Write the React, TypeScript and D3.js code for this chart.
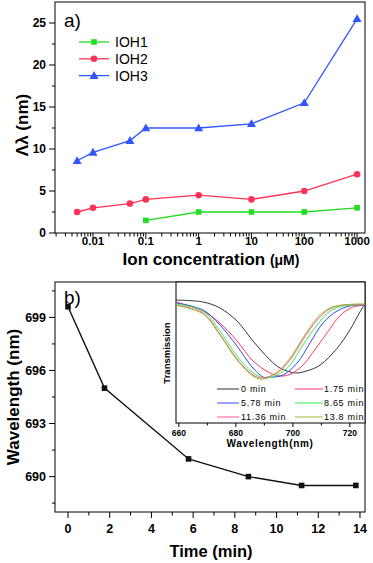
import React from 'react';
import * as d3 from 'd3';

// panel a) data
const concentrations = [0.005, 0.01, 0.05, 0.1, 1, 10, 100, 1000];
const ioh1Conc = [0.1, 1, 10, 100, 1000];
const ioh1 = [1.5, 2.5, 2.5, 2.5, 3];
const ioh2 = [2.5, 3, 3.5, 4, 4.5, 4, 5, 7];
const ioh3 = [8.6, 9.6, 11, 12.5, 12.5, 13, 15.5, 25.5];
const concTicks = [0.01, 0.1, 1, 10, 100, 1000];
const concTickLabels = ['0.01', '0.1', '1', '10', '100', '1000'];
const shiftTicks = [0, 5, 10, 15, 20, 25];

// panel b) data
const times = [0, 1.75, 5.78, 8.65, 11.2, 13.8];
const peakWavelength = [699.6, 695, 691, 690, 689.5, 689.5];
const timeTicks = [0, 2, 4, 6, 8, 10, 12, 14];
const wavelengthTicks = [690, 693, 696, 699];

// inset spectra: [wavelength, transmission]
const spectrumLabels = ['0 min', '1.75 min', '5.78 min', '8.65 min', '11.36 min', '13.8 min'];
const spec0 = [[659, 0.872], [668.5, 0.858], [674.4, 0.816], [680.4, 0.723], [686, 0.582], [692, 0.447], [695.5, 0.39], [700.8, 0.355], [705, 0.37], [709.5, 0.41], [715.5, 0.53], [720, 0.66], [723.6, 0.79], [725.3, 0.845]];
const spec1 = [[659, 0.858], [668.5, 0.794], [674.4, 0.709], [680.4, 0.582], [686, 0.44], [692, 0.355], [695.5, 0.333], [699, 0.345], [703.5, 0.41], [707, 0.5], [712, 0.64], [716.5, 0.76], [720.8, 0.82], [725.3, 0.837]];
const spec2 = [[659, 0.851], [668.5, 0.801], [674.4, 0.695], [680.4, 0.546], [686, 0.39], [690, 0.322], [692.5, 0.325], [696.5, 0.34], [701.5, 0.425], [706, 0.567], [710.6, 0.71], [715.5, 0.794], [720, 0.83], [725.3, 0.837]];
const spec3 = [[659, 0.844], [668.5, 0.794], [674.4, 0.652], [680.4, 0.475], [686, 0.355], [690, 0.32], [694.4, 0.34], [699, 0.41], [703.5, 0.553], [708.5, 0.695], [713, 0.794], [717.6, 0.83], [722.5, 0.837], [725.3, 0.84]];
const spec4 = [[659, 0.837], [668.5, 0.78], [674.4, 0.63], [680.4, 0.454], [686, 0.34], [689, 0.32], [694.4, 0.355], [699, 0.447], [703.5, 0.589], [708.5, 0.73], [713, 0.81], [717.6, 0.837], [725.3, 0.84]];
const spec5 = [[659, 0.835], [668.5, 0.773], [674.4, 0.624], [680.4, 0.447], [686, 0.333], [689, 0.31], [694.4, 0.36], [699, 0.46], [703.5, 0.603], [708.5, 0.745], [713, 0.816], [717.6, 0.837], [725.3, 0.845]];
const spectra = [spec0, spec1, spec2, spec3, spec4, spec5];
const spectrumColors = ['#333333', '#ff3366', '#3344ee', '#33ee44', '#ff5599', '#99bb33'];
const insetTicks = [660, 680, 700, 720];
const insetMinor = [670, 690, 710];

const FONT = '"Liberation Sans", Arial, sans-serif';

function App() {
  // ---- panel a
  const xa = d3.scaleLog().domain([Math.pow(10, -2.72), Math.pow(10, 3.15)]).range([55, 365]);
  const ya = d3.scaleLinear().domain([0, 27.5]).range([233, 2]);
  const minorA: number[] = [];
  for (let e = -3; e <= 3; e++) {
    for (let k = 2; k <= 9; k++) {
      const v = k * Math.pow(10, e);
      if (v > xa.domain()[0] && v < xa.domain()[1]) minorA.push(v);
    }
  }
  const lineA = (xs: number[], ys: number[]) =>
    d3.line<number>().x((d, i) => xa(xs[i])).y(d => ya(d))(ys) || '';

  const series = [
    { name: 'IOH1', xs: ioh1Conc, ys: ioh1, color: '#22dd22', shape: 'square' },
    { name: 'IOH2', xs: concentrations, ys: ioh2, color: '#ff3355', shape: 'circle' },
    { name: 'IOH3', xs: concentrations, ys: ioh3, color: '#3355ff', shape: 'triangle' },
  ];

  const marker = (shape: string, cx: number, cy: number, color: string, key: any) => {
    if (shape === 'square') return <rect key={key} x={cx - 2.8} y={cy - 2.8} width={5.6} height={5.6} fill={color} />;
    if (shape === 'circle') return <circle key={key} cx={cx} cy={cy} r={3.3} fill={color} />;
    return <path key={key} d={`M${cx},${cy - 4.5}L${cx + 4.5},${cy + 3.3}L${cx - 4.5},${cy + 3.3}Z`} fill={color} />;
  };

  // ---- panel b
  const xb = d3.scaleLinear().domain([-0.623, 14.24]).range([55, 365]);
  const yb = d3.scaleLinear().domain([688, 701]).range([512, 282]);
  const lineB = d3.line<number>().x((d, i) => xb(times[i])).y(d => yb(d))(peakWavelength) || '';

  // ---- inset
  const xi = d3.scaleLinear().domain([659, 725.3]).range([176, 365]);
  const yi = d3.scaleLinear().domain([0, 1]).range([423, 282]);
  const specLine = d3.line<number[]>().x(d => xi(d[0])).y(d => yi(d[1])).curve(d3.curveCatmullRom);

  const legendPos = [
    [217, 389], [295, 389],
    [217, 403], [295, 403],
    [217, 417], [295, 417],
  ];

  return (
    <svg width={373} height={563} style={{ position: 'absolute', left: 0, top: 0, background: '#fff' }} fontFamily={FONT}>
      {/* ===== panel a ===== */}
      <rect x={55} y={2} width={310} height={231} fill="none" stroke="#000" strokeWidth={1} />
      {shiftTicks.map(t => (
        <g key={'ya' + t}>
          <line x1={49} x2={55} y1={ya(t)} y2={ya(t)} stroke="#000" />
          <text x={46} y={ya(t) + 4.3} textAnchor="end" fontSize={12} fontWeight="bold">{t}</text>
        </g>
      ))}
      {d3.range(2.5, 27.5, 5).map(t => (
        <line key={'yam' + t} x1={52} x2={55} y1={ya(t)} y2={ya(t)} stroke="#000" />
      ))}
      {concTicks.map((t, i) => (
        <g key={'xa' + t}>
          <line x1={xa(t)} x2={xa(t)} y1={233} y2={239} stroke="#000" />
          <text x={xa(t)} y={245} textAnchor="middle" fontSize={11.5} fontWeight="bold">{concTickLabels[i]}</text>
        </g>
      ))}
      {minorA.map(t => (
        <line key={'xam' + t} x1={xa(t)} x2={xa(t)} y1={233} y2={236.5} stroke="#000" />
      ))}
      {series.map(s => (
        <g key={s.name}>
          <path d={lineA(s.xs, s.ys)} fill="none" stroke={s.color} strokeWidth={1.3} />
          {s.ys.map((v, i) => marker(s.shape, xa(s.xs[i]), ya(v), s.color, i))}
        </g>
      ))}
      {series.map((s, i) => (
        <g key={'lg' + s.name}>
          <line x1={79} x2={109} y1={42 + i * 16.8} y2={42 + i * 16.8} stroke={s.color} strokeWidth={1.3} />
          {marker(s.shape, 94, 42 + i * 16.8, s.color, 'm')}
          <text x={115} y={42 + i * 16.8 + 5} fontSize={14}>{s.name}</text>
        </g>
      ))}
      <text x={64} y={27} fontSize={19}>a)</text>
      <text transform={`translate(28,${125}) rotate(-90)`} textAnchor="middle" fontSize={17} fontWeight="bold">Λλ (nm)</text>
      <text x={211} y={265} textAnchor="middle" fontSize={17} fontWeight="bold">
        Ion concentration <tspan fontSize={14}>(μM)</tspan>
      </text>

      {/* ===== panel b ===== */}
      <rect x={55} y={282} width={310} height={230} fill="none" stroke="#000" strokeWidth={1} />
      {wavelengthTicks.map(t => (
        <g key={'yb' + t}>
          <line x1={49} x2={55} y1={yb(t)} y2={yb(t)} stroke="#000" />
          <text x={46} y={yb(t) + 4.5} textAnchor="end" fontSize={12.5} fontWeight="bold">{t}</text>
        </g>
      ))}
      {[688.5, 691.5, 694.5, 697.5, 700.5].map(t => (
        <line key={'ybm' + t} x1={52} x2={55} y1={yb(t)} y2={yb(t)} stroke="#000" />
      ))}
      {timeTicks.map(t => (
        <g key={'xb' + t}>
          <line x1={xb(t)} x2={xb(t)} y1={512} y2={518} stroke="#000" />
          <text x={xb(t)} y={533} textAnchor="middle" fontSize={12.5} fontWeight="bold">{t}</text>
        </g>
      ))}
      {d3.range(1, 15, 2).map(t => (
        <line key={'xbm' + t} x1={xb(t)} x2={xb(t)} y1={512} y2={515.5} stroke="#000" />
      ))}
      <path d={lineB} fill="none" stroke="#111" strokeWidth={1.4} />
      {peakWavelength.map((v, i) => (
        <rect key={'pb' + i} x={xb(times[i]) - 2.8} y={yb(v) - 2.8} width={5.6} height={5.6} fill="#111" />
      ))}
      <text x={64} y={304} fontSize={19}>b)</text>
      <text transform={`translate(19,397) rotate(-90)`} textAnchor="middle" fontSize={17} fontWeight="bold">Wavelength (nm)</text>
      <text x={211} y={557} textAnchor="middle" fontSize={16.5} fontWeight="bold">Time (min)</text>

      {/* ===== inset ===== */}
      <rect x={176} y={282} width={189} height={141} fill="#fff" stroke="#000" strokeWidth={1} />
      <clipPath id="insetClip"><rect x={176} y={282} width={189} height={141} /></clipPath>
      <g clipPath="url(#insetClip)">
        {spectra.map((s, i) => (
          <path key={'sp' + i} d={specLine(s as any) || ''} fill="none" stroke={spectrumColors[i]} strokeWidth={1} />
        ))}
      </g>
      {insetTicks.map(t => (
        <g key={'xi' + t}>
          <line x1={xi(t)} x2={xi(t)} y1={423} y2={427} stroke="#000" />
          <text x={xi(t)} y={436} textAnchor="middle" fontSize={8.5} fontWeight="bold">{t}</text>
        </g>
      ))}
      {insetMinor.map(t => (
        <line key={'xim' + t} x1={xi(t)} x2={xi(t)} y1={423} y2={425.5} stroke="#000" />
      ))}
      {spectrumLabels.map((l, i) => (
        <g key={'sl' + i}>
          <line x1={legendPos[i][0]} x2={legendPos[i][0] + (i % 2 ? 28 : 22)} y1={legendPos[i][1]} y2={legendPos[i][1]} stroke={spectrumColors[i]} strokeWidth={1} />
          <text x={legendPos[i][0] + (i % 2 ? 29 : 24)} y={legendPos[i][1] + 3.3} fontSize={9} letterSpacing={0.7}>{l}</text>
        </g>
      ))}
      <text x={270} y={447} textAnchor="middle" fontSize={10} fontWeight="bold" letterSpacing={0.7}>Wavelength(nm)</text>
      <text transform={`translate(170,353) rotate(-90)`} textAnchor="middle" fontSize={9.5} fontWeight="bold">Transmission</text>
    </svg>
  );
}

export default App;
